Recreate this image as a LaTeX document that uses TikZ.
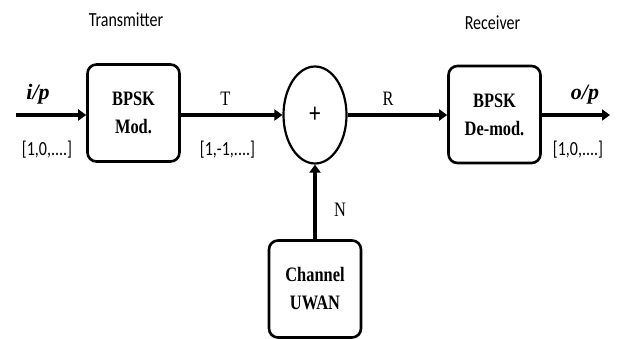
\documentclass[tikz,border=0pt]{standalone}
\usepackage{fontspec}
\usetikzlibrary{calc, positioning}
\usetikzlibrary{arrows.meta}
\usetikzlibrary{shapes.geometric}

\newfontfamily\blockfont{Liberation Serif}[FakeStretch=0.8]
\newfontfamily\portfont{Liberation Serif}
\newfontfamily\notefont{Carlito}[FakeStretch=0.8]

\tikzset{
  block/.style={draw, line width=2.6pt, rounded corners=9pt, align=center,
    minimum width=92pt, minimum height=97pt, inner sep=0pt,
    font=\blockfont\fontsize{20.5}{28}\selectfont\bfseries},
  adder/.style={draw, ellipse, line width=2.2pt, inner sep=0pt,
    minimum width=63pt, minimum height=97pt,
    font=\notefont\fontsize{28}{30}\selectfont},
  flow/.style={line width=3.2pt, -{Triangle[length=8pt,width=11pt]}},
  sig/.style={anchor=base, font=\blockfont\fontsize{20.5}{24}\selectfont},
  port/.style={anchor=base, font=\portfont\fontsize{22}{24}\selectfont\bfseries\itshape},
  bits/.style={anchor=base, font=\notefont\fontsize{20}{24}\selectfont},
}

\begin{document}
\begin{tikzpicture}[x=1pt, y=-1pt]
\useasboundingbox (0,0) rectangle (618,339);

\node[block] (mod) at (133.5,113) {BPSK\\Mod.};
\node[adder] (sum) at (315,115) {+};
\node[block] (demod) at (494.5,114.5) {BPSK\\De-mod.};
\node[block] (chan) at (315,289) {Channel\\UWAN};

\coordinate (in) at (16,115);
\coordinate (out) at (610,115);

\draw[flow] (in) -- (in -| mod.west);
\draw[flow] (mod.east |- in) -- (in -| sum.west);
\draw[flow] (sum.east |- in) -- (in -| demod.west);
\draw[flow] (demod.east |- in) -- (out);
\draw[flow] (chan.north) -- (sum.south);

\node[bits] (tx) at (126,27) {Transmitter};
\node[bits] (rx) at (492.5,30) {Receiver};

\node[port] (ip) at (38,100) {i/p};
\node[port] (op) at (585,100) {o/p};

\node[bits] (inbits) at (47,156) {[1,0,....]};
\node[bits] (tbits) at (227.5,156) {[1,-1,....]};
\node[bits] (outbits) at (578,156) {[1,0,....]};

\node[sig] (tlab) at (225.5,106) {T};
\node[sig] (rlab) at (388,106) {R};
\node[sig] (nlab) at (340,216) {N};
\end{tikzpicture}
\end{document}
